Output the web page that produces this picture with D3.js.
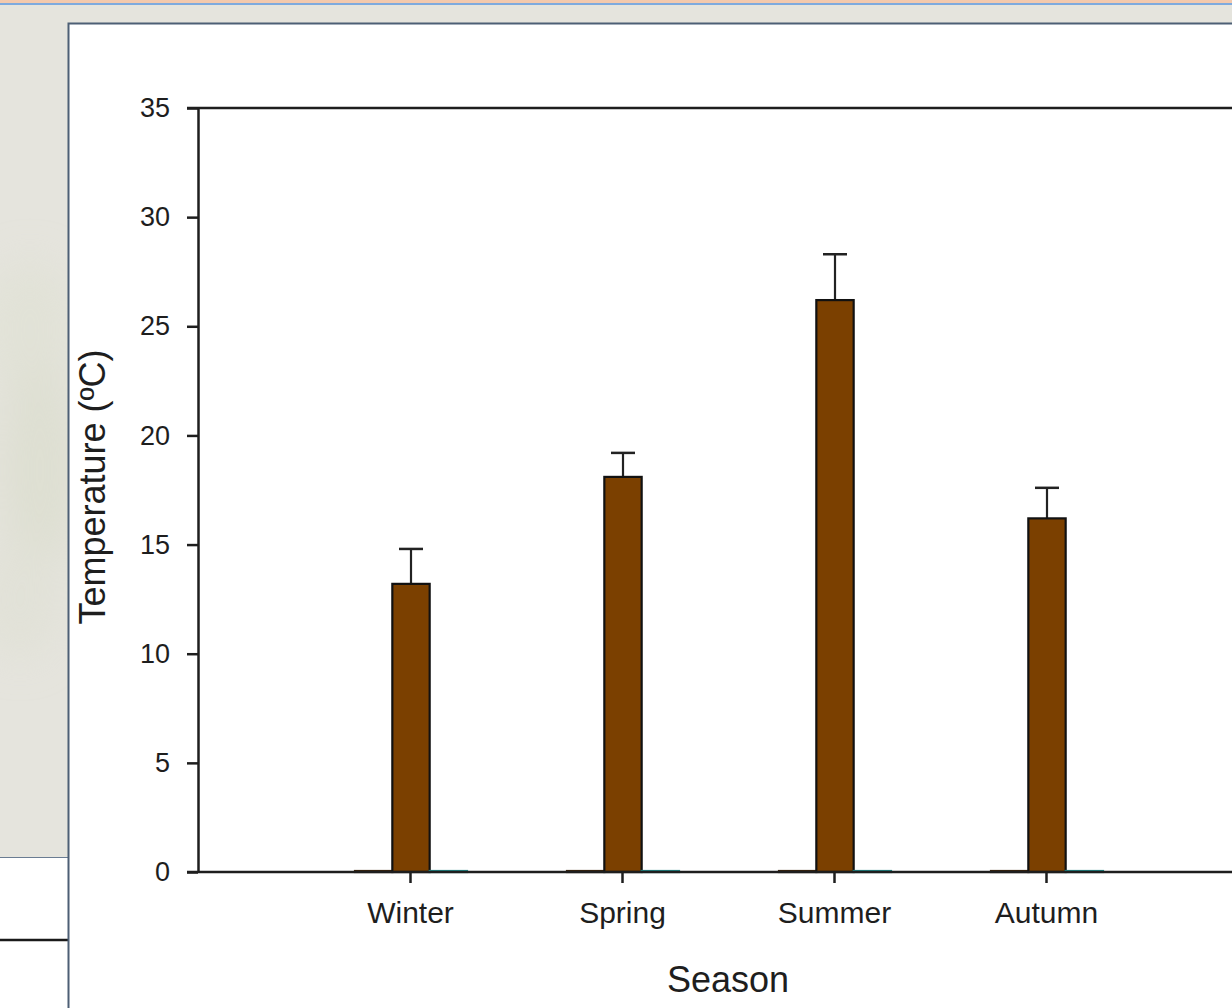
<!DOCTYPE html>
<html>
<head>
<meta charset="utf-8">
<script src="https://cdn.jsdelivr.net/npm/d3@7/dist/d3.min.js"></script>
<style>
  html, body { margin: 0; padding: 0; background: #ffffff; }
  svg { display: block; }
  text { font-family: "Liberation Sans", Arial, sans-serif; fill: #1e1e1e; }
</style>
</head>
<body>
<svg id="chart" width="1232" height="1008"></svg>
<script>
// Seasonal mean temperature with upper error bars
const seasons = ["Winter", "Spring", "Summer", "Autumn"];
const meanTemp = [13.2, 18.1, 26.2, 16.2];
const errorUp = [1.6, 1.1, 2.1, 1.4];
// companion series plotted beside each season (all zero)
const seriesA = [0, 0, 0, 0];
const seriesC = [0, 0, 0, 0];
const seriesKeys = ["A", "B", "C"];
const seriesColors = { A: "#3a2208", B: "#7b4000", C: "#1f8c8c" };
const yTicks = [0, 5, 10, 15, 20, 25, 30, 35];
const xTitle = "Season";
const yTitle = "Temperature (ºC)";

const svg = d3.select("#chart");
const W = 1232, H = 1008;

// ---- page backdrop ----
const defs = svg.append("defs");
const blur = defs.append("filter").attr("id", "soft").attr("x", "-50%").attr("y", "-50%").attr("width", "200%").attr("height", "200%");
blur.append("feGaussianBlur").attr("stdDeviation", 20);

svg.append("rect").attr("x", 0).attr("y", 0).attr("width", W).attr("height", H).attr("fill", "#ffffff");
svg.append("rect").attr("x", 0).attr("y", 0).attr("width", W).attr("height", 858).attr("fill", "#e5e4dd");
// faint foliage behind the left margin
const blobs = svg.append("g").attr("filter", "url(#soft)").attr("opacity", 0.6);
blobs.append("ellipse").attr("cx", 30).attr("cy", 330).attr("rx", 45).attr("ry", 70).attr("fill", "#dfe1d3");
blobs.append("ellipse").attr("cx", 40).attr("cy", 470).attr("rx", 40).attr("ry", 110).attr("fill", "#d9dccb");
blobs.append("ellipse").attr("cx", 20).attr("cy", 600).attr("rx", 40).attr("ry", 60).attr("fill", "#dfe0d4");
svg.append("rect").attr("x", 0).attr("y", 0).attr("width", W).attr("height", 3).attr("fill", "#f3c9ad");
svg.append("rect").attr("x", 0).attr("y", 3).attr("width", W).attr("height", 2).attr("fill", "#7eaade");
svg.append("line").attr("x1", 0).attr("x2", 68).attr("y1", 857.5).attr("y2", 857.5)
  .attr("stroke", "#6a7c92").attr("stroke-width", 1);
svg.append("rect").attr("x", 0).attr("y", 858).attr("width", 68).attr("height", 150).attr("fill", "#ffffff");
svg.append("line").attr("x1", 0).attr("x2", 68).attr("y1", 940).attr("y2", 940)
  .attr("stroke", "#1a1a1a").attr("stroke-width", 2.5);

// white panel holding the chart
svg.append("rect").attr("x", 68.5).attr("y", 23.5).attr("width", W).attr("height", H)
  .attr("fill", "#ffffff").attr("stroke", "#4d5f75").attr("stroke-width", 2);

// ---- scales ----
const plot = { left: 198, right: 1258, top: 108, bottom: 872 };
const x = d3.scalePoint().domain(seasons).range([plot.left, plot.right]).padding(1);
const sub = d3.scaleBand().domain(seriesKeys).range([-55, 57]).paddingInner(0);
const y = d3.scaleLinear().domain([0, 35]).range([plot.bottom, plot.top]);

const g = svg.append("g");

// bars
const rows = seasons.map((s, i) => ({ season: s, A: seriesA[i], B: meanTemp[i], C: seriesC[i], err: errorUp[i] }));
const groups = g.selectAll("g.season").data(rows).join("g").attr("class", "season")
  .attr("transform", d => `translate(${x(d.season)},0)`);

const mid = sub("B") + sub.bandwidth() / 2;
// error bars (upper only)
groups.append("line")
  .attr("x1", mid).attr("x2", mid)
  .attr("y1", d => y(d.B)).attr("y2", d => y(d.B + d.err))
  .attr("stroke", "#222").attr("stroke-width", 2.2);
groups.append("line")
  .attr("x1", mid - 12).attr("x2", mid + 12)
  .attr("y1", d => y(d.B + d.err)).attr("y2", d => y(d.B + d.err))
  .attr("stroke", "#222").attr("stroke-width", 2.5);

groups.selectAll("rect").data(d => seriesKeys.map(k => ({ key: k, value: d[k] }))).join("rect")
  .attr("x", d => sub(d.key))
  .attr("width", sub.bandwidth())
  .attr("y", d => y(d.value) - (d.value === 0 ? 1 : 0))
  .attr("height", d => y(0) - y(d.value) + (d.value === 0 ? 1 : 0))
  .attr("fill", d => seriesColors[d.key])
  .attr("stroke", d => d.key === "B" ? "#111" : seriesColors[d.key])
  .attr("stroke-width", 2.2);

// ---- axes ----
const yAxis = d3.axisLeft(y).tickValues(yTicks).tickSize(11).tickPadding(17).tickSizeOuter(0);
const yg = svg.append("g").attr("transform", `translate(${plot.left},0)`).call(yAxis);
yg.select(".domain").attr("stroke", "#1e1e1e").attr("stroke-width", 2.5);
yg.selectAll(".tick line").attr("stroke", "#1e1e1e").attr("stroke-width", 2.5);
yg.selectAll(".tick text").attr("font-size", 27).attr("fill", "#1e1e1e");

const xAxis = d3.axisBottom(x).tickSize(11).tickPadding(19).tickSizeOuter(0);
const xg = svg.append("g").attr("transform", `translate(0,${plot.bottom})`).call(xAxis);
xg.select(".domain").attr("stroke", "#1e1e1e").attr("stroke-width", 2.5)
  .attr("d", `M${plot.left - 11},0H${plot.right}`);
xg.selectAll(".tick line").attr("stroke", "#1e1e1e").attr("stroke-width", 2.5);
xg.selectAll(".tick text").attr("font-size", 30).attr("fill", "#1e1e1e");

// top frame line
svg.append("line").attr("x1", plot.left - 11).attr("x2", plot.right)
  .attr("y1", plot.top).attr("y2", plot.top)
  .attr("stroke", "#1e1e1e").attr("stroke-width", 2.5);

// titles
svg.append("text").attr("x", 728).attr("y", 992)
  .attr("text-anchor", "middle").attr("font-size", 36).text(xTitle);
svg.append("text").attr("transform", "translate(105,487) rotate(-90)")
  .attr("text-anchor", "middle").attr("font-size", 36).text(yTitle);
</script>
</body>
</html>
